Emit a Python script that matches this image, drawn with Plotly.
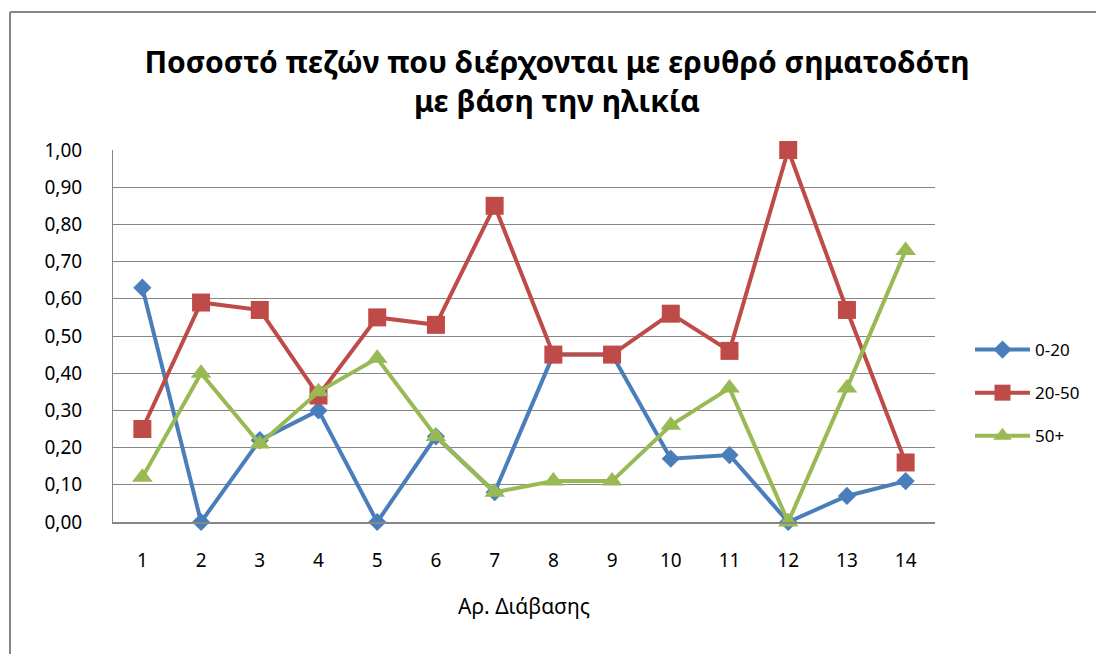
import plotly.graph_objects as go

categories = list(range(1, 15))
series_names = ["0-20", "20-50", "50+"]
values_0_20 = [0.63, 0.00, 0.22, 0.30, 0.00, 0.23, 0.08, 0.45, 0.45, 0.17, 0.18, 0.00, 0.07, 0.11]
values_20_50 = [0.25, 0.59, 0.57, 0.34, 0.55, 0.53, 0.85, 0.45, 0.45, 0.56, 0.46, 1.00, 0.57, 0.16]
values_50p = [0.12, 0.40, 0.21, 0.35, 0.44, 0.23, 0.08, 0.11, 0.11, 0.26, 0.36, 0.00, 0.36, 0.73]
y_ticks = [0.0, 0.1, 0.2, 0.3, 0.4, 0.5, 0.6, 0.7, 0.8, 0.9, 1.0]

colors = ["#4A7EBB", "#BE4B48", "#98B954"]
symbols = ["diamond", "square", "triangle-up"]
sizes = [14, 18, 18]

fig = go.Figure()
for name, vals, c, s, sz in zip(series_names, [values_0_20, values_20_50, values_50p], colors, symbols, sizes):
    fig.add_trace(go.Scatter(
        x=categories, y=vals, name=name, mode="lines+markers",
        legendgroup=name, cliponaxis=False,
        line=dict(color=c, width=4),
        marker=dict(symbol=s, size=sz, color=c),
    ))

font_main = "Noto Sans, DejaVu Sans, sans-serif"
OFF = 8  # default body margin in the page
W, H = 1104 - OFF, 654 - OFF
L, R, T, B = 113 - OFF, 169, 150 - OFF, 132
pw, ph = W - L - R, H - T - B

def px_x(x):
    return (x - OFF - L) / pw

def px_y(y):
    return (H - B - (y - OFF)) / ph

fig.update_layout(
    width=W, height=H,
    margin=dict(l=L, r=R, t=T, b=B),
    paper_bgcolor="white", plot_bgcolor="white",
    separators=",.",
    title=dict(
        text="<b>Ποσοστό πεζών που διέρχονται με ερυθρό σηματοδότη<br>με βάση την ηλικία</b>",
        x=(557 - OFF) / W, xanchor="center", y=1 - (73 - OFF) / H, yanchor="middle",
        font=dict(family=font_main, size=30, color="black"),
    ),
    xaxis=dict(
        range=[0.5, 14.5], tickmode="array", tickvals=categories,
        ticktext=[str(c) for c in categories],
        showgrid=False, zeroline=False, showline=True,
        linecolor="#868686", linewidth=2, ticks="",
        ticklabelstandoff=20,
        tickfont=dict(family=font_main, size=19, color="black"),
        title=dict(text="Αρ. Διάβασης", font=dict(family=font_main, size=21, color="black"), standoff=28),
    ),
    yaxis=dict(
        range=[0, 1.0], tickmode="array", tickvals=y_ticks,
        tickformat=".2f", showgrid=True, gridcolor="#868686", gridwidth=1,
        zeroline=False, showline=True, linecolor="#868686", linewidth=1, ticks="",
        ticklabelstandoff=26,
        tickfont=dict(family=font_main, size=19, color="black"),
    ),
    legend=dict(
        x=px_x(970), y=px_y(332), xanchor="left", yanchor="top",
        font=dict(family=font_main, size=17, color="black"),
        itemwidth=55, tracegroupgap=18, bgcolor="rgba(0,0,0,0)",
    ),
    showlegend=True,
    shapes=[
        dict(type="line", xref="paper", yref="paper",
             x0=px_x(10), x1=px_x(10), y0=px_y(700), y1=px_y(12),
             line=dict(color="#868686", width=2)),
        dict(type="line", xref="paper", yref="paper",
             x0=px_x(10), x1=px_x(1200), y0=px_y(12), y1=px_y(12),
             line=dict(color="#868686", width=2)),
    ],
)

fig.write_html("out.html")
